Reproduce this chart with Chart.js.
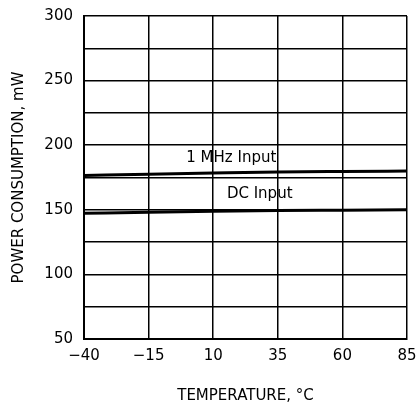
<!DOCTYPE html>
<html lang="en">

<head>
    <meta charset="UTF-8">
    <title>Power consumption vs temperature</title>
    <style>
        html, body { margin: 0; padding: 0; background: #fff; }
        #wrap { width: 419px; height: 409px; }
    </style>
</head>

<body>
    <div id="wrap"><canvas id="myChart01"></canvas></div>
    <script src="https://cdn.jsdelivr.net/npm/chart.js"></script>
    <script>
        // 溫度 (x軸)
        var temps = [-40, -15, 10, 35, 60, 85];
        // 兩條曲線，從圖上讀出的數值 (mW)
        var mhzInput = [176.5, 177.6, 178.5, 179.3, 179.7, 180];
        var dcInput = [147.3, 148.2, 148.9, 149.4, 149.7, 150];
        // 刻度
        var xTicks = [-40, -15, 10, 35, 60, 85];
        var yTicks = [50, 75, 100, 125, 150, 175, 200, 225, 250, 275, 300];
        // 曲線旁的文字 [文字, x, y]
        var curveLabels = [
            ['1 MHz Input', 17, 190],
            ['DC Input', 28, 162.5]
        ];

        var font = 'DejaVu Sans';

        function toPoints(ys) {
            return temps.map(function (t, i) { return { x: t, y: ys[i] }; });
        }

        // 在圖上寫曲線名稱
        var labelPlugin = {
            id: 'curveLabels',
            afterDatasetsDraw: function (chart) {
                var ctx = chart.ctx;
                ctx.save();
                ctx.fillStyle = '#000';
                ctx.font = '15px "' + font + '"';
                ctx.textAlign = 'center';
                ctx.textBaseline = 'middle';
                curveLabels.forEach(function (l) {
                    ctx.fillText(l[0], chart.scales.x.getPixelForValue(l[1]), chart.scales.y.getPixelForValue(l[2]));
                });
                ctx.restore();
            }
        };

        var ctx01 = document.getElementById('myChart01');
        var chart01 = new Chart(ctx01, {
            type: 'line',
            data: {
                datasets: [{
                    label: '1 MHz Input',
                    data: toPoints(mhzInput),
                    borderColor: '#000',
                    borderWidth: 3,
                    pointRadius: 0,
                    cubicInterpolationMode: 'monotone'
                }, {
                    label: 'DC Input',
                    data: toPoints(dcInput),
                    borderColor: '#000',
                    borderWidth: 3,
                    pointRadius: 0,
                    cubicInterpolationMode: 'monotone'
                }]
            },
            options: {
                responsive: true,
                maintainAspectRatio: false,
                animation: false,
                layout: { padding: { top: 16, right: 12, left: 0, bottom: 0 } },
                plugins: {
                    legend: { display: false },
                    tooltip: { enabled: false }
                },
                scales: {
                    x: {
                        type: 'linear',
                        min: -40,
                        max: 85,
                        afterBuildTicks: function (scale) {
                            scale.ticks = xTicks.map(function (v) { return { value: v }; });
                        },
                        afterFit: function (scale) {
                            scale.height = 70;
                            scale.paddingLeft = 0;
                            scale.paddingRight = 0;
                        },
                        grid: { color: '#000', lineWidth: 1.5, drawTicks: false },
                        border: { color: '#000', width: 2 },
                        ticks: {
                            color: '#000',
                            padding: 8,
                            maxRotation: 0,
                            font: { family: font, size: 15 },
                            callback: function (v) { return v < 0 ? '\u2212' + Math.abs(v) : '' + v; }
                        },
                        title: {
                            display: true,
                            text: 'TEMPERATURE, \u00B0C',
                            color: '#000',
                            font: { family: font, size: 15 },
                            padding: { top: 0, bottom: 4 }
                        }
                    },
                    y: {
                        min: 50,
                        max: 300,
                        afterBuildTicks: function (scale) {
                            scale.ticks = yTicks.map(function (v) { return { value: v }; });
                        },
                        afterFit: function (scale) {
                            scale.width = 84;
                            scale.paddingTop = 0;
                            scale.paddingBottom = 0;
                        },
                        grid: { color: '#000', lineWidth: 1.5, drawTicks: false },
                        border: { color: '#000', width: 2 },
                        ticks: {
                            color: '#000',
                            padding: 11,
                            font: { family: font, size: 15 },
                            callback: function (v) { return v % 50 === 0 ? '' + v : ''; }
                        },
                        title: {
                            display: true,
                            text: 'POWER CONSUMPTION, mW',
                            color: '#000',
                            font: { family: font, size: 15 },
                            padding: { top: 10, bottom: 0 }
                        }
                    }
                }
            },
            plugins: [labelPlugin]
        });
    </script>
</body>

</html>
